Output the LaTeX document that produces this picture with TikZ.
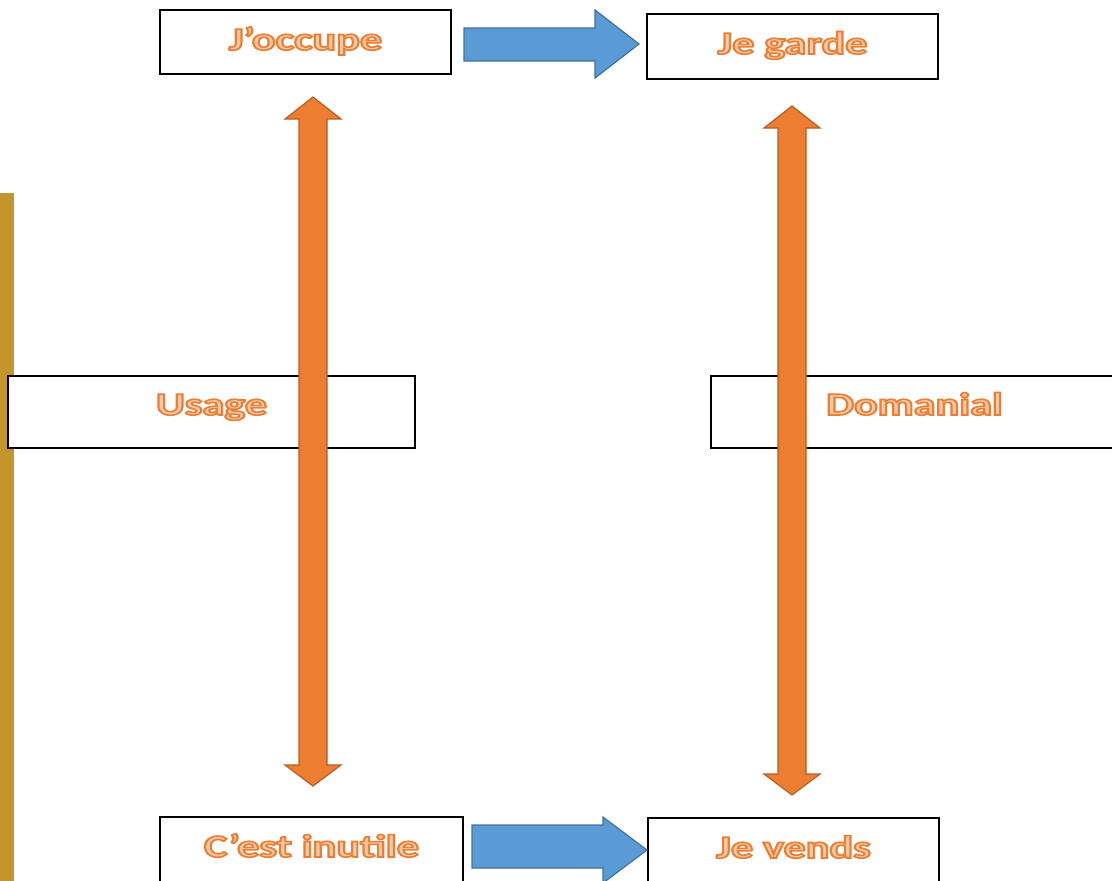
\documentclass[tikz,border=0pt]{standalone}
\usepackage{graphicx}
\usepackage{fontspec}
\setmainfont{Carlito}
\definecolor{peach}{HTML}{F8C9A6}
\definecolor{orng}{HTML}{ED7D31}
\definecolor{orngdark}{HTML}{B75E22}
\definecolor{blu}{HTML}{5B9BD5}
\definecolor{bludark}{HTML}{41719C}
\definecolor{gold}{HTML}{C4952A}
% outlined text: light fill, orange stroke
\newcommand{\wordart}[1]{\scalebox{1.38}[1]{\textcolor{peach}{%
  \special{pdf:code 2 Tr 0.929 0.490 0.192 RG 1.6 w}#1\special{pdf:code 0 Tr}}}}
% horizontal block arrow: x start, x head, x tip, y body top, y body bottom, y head top, y head bottom, y tip
\newcommand{\harrow}[8]{%
  \draw[blockb] (#1,#4) -- (#2,#4) -- (#2,#6) -- (#3,#8) -- (#2,#7) -- (#2,#5) -- (#1,#5) -- cycle;}
% vertical double block arrow: x centre, y top tip, y bottom tip
\newcommand{\vdarrow}[3]{%
  \draw[blocko] (#1,#2) -- (#1+28,#2+22) -- (#1+14,#2+22) -- (#1+14,#3-21)
    -- (#1+28,#3-21) -- (#1,#3) -- (#1-28,#3-21) -- (#1-14,#3-21)
    -- (#1-14,#2+22) -- (#1-28,#2+22) -- cycle;}
\begin{document}
\begin{tikzpicture}[x=1pt,y=-1pt,
    box/.style={draw=black,line width=1.3pt,fill=white,inner sep=0pt,
      font=\fontsize{32}{38}\selectfont\bfseries,text depth=0pt},
    blockb/.style={fill=blu,draw=bludark,line width=1.2pt,line join=miter},
    blocko/.style={fill=orng,draw=orngdark,line width=1.2pt,line join=miter}]
  \useasboundingbox (0,0) rectangle (1112,881);
  \clip (0,0) rectangle (1112,881);
  \fill[gold] (0,193) rectangle (14,881);
  % boxes
  \node[box,minimum width=291,minimum height=64,text height=16] (occupe) at (305.5,42) {\wordart{J’occupe}};
  \node[box,minimum width=291,minimum height=65,text height=15] (garde) at (792.5,46.5) {\wordart{Je garde}};
  \node[box,minimum width=407,minimum height=72,text height=6] (usage) at (211.5,412) {\wordart{Usage}};
  \node[box,minimum width=407,minimum height=72,text height=6] (domanial) at (914.5,412) {\wordart{Domanial}};
  \node[box,minimum width=303,minimum height=66,text height=14] (inutile) at (311.5,850) {\wordart{C’est inutile}};
  \node[box,minimum width=291,minimum height=66,text height=14] (vends) at (793.5,851) {\wordart{Je vends}};
  % arrows
  \harrow{464}{595}{639}{28}{61}{10}{78}{44}
  \harrow{472}{603}{647}{825}{868}{817}{883}{850}
  \vdarrow{313}{97}{786}
  \vdarrow{792}{106}{795}
\end{tikzpicture}
\end{document}
